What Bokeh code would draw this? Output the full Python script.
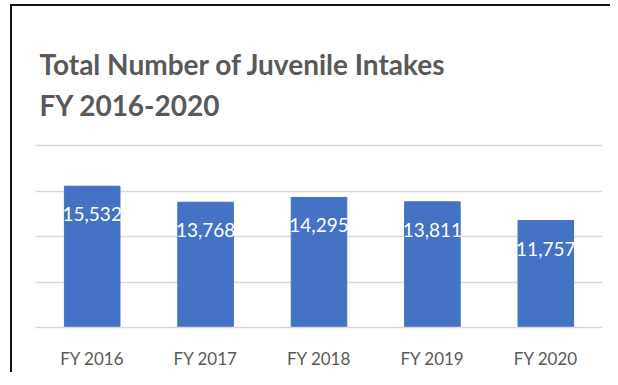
from bokeh.plotting import figure
from bokeh.models import ColumnDataSource, Label, FixedTicker
from bokeh.core.properties import value
from bokeh.embed import file_html
from bokeh.resources import INLINE

categories = ["FY 2016", "FY 2017", "FY 2018", "FY 2019", "FY 2020"]
intakes = [15532, 13768, 14295, 13811, 11757]
y_ticks = [0, 5000, 10000, 15000, 20000]
title_lines = ["Total Number of Juvenile Intakes", "FY 2016-2020"]

labels = [f"{v:,}" for v in intakes]
source = ColumnDataSource(dict(cat=categories, val=intakes, lab=labels))

# canvas origin sits just inside the black frame lines (page coords 12, 6)
OX, OY = 12, 6
W, H = 600, 368
FRAME_L, FRAME_R, FRAME_B = 35 - OX, 602 - OX, 327 - OY
GRID_TOP = 145 - OY                      # where 20000 sits
y_end = 20000 * FRAME_B / (FRAME_B - GRID_TOP)

p = figure(x_range=categories, y_range=(0, y_end), width=W, height=H,
           output_backend="svg", toolbar_location=None, title=None,
           min_border_left=FRAME_L, min_border_right=W - FRAME_R,
           min_border_top=0, min_border_bottom=H - FRAME_B)
p.styles = {"position": "relative", "left": "12px", "top": "6px",
            "box-shadow": "-2px -2px 0 0 #111111"}
p.outline_line_color = None
p.background_fill_color = "white"
p.border_fill_color = "white"

p.vbar(x="cat", top="val", width=0.49, source=source, color="#4472C4")
p.text(x="cat", y="val", text="lab", source=source, text_align="center",
       text_baseline="alphabetic", y_offset=28, text_color="white",
       text_font=value("Lato"), text_font_size="19px")

p.yaxis.visible = False
p.ygrid.ticker = FixedTicker(ticks=y_ticks)
p.ygrid.grid_line_color = "#d9d9d9"
p.ygrid.grid_line_width = 1.5
p.xgrid.grid_line_color = None
p.xaxis.axis_line_color = "#d9d9d9"
p.xaxis.axis_line_width = 1.5
p.xaxis.major_tick_line_color = None
p.xaxis.minor_tick_line_color = None
p.xaxis.major_label_text_font = "Lato"
p.xaxis.major_label_text_font_size = "17px"
p.xaxis.major_label_text_color = "#595959"
p.xaxis.major_label_standoff = 14

for line, base in zip(title_lines, [63, 104]):
    p.add_layout(Label(x=4, y=FRAME_B - (base - OY), x_units="screen", y_units="screen",
                       text=line, text_font="Lato", text_font_style="bold",
                       text_font_size="28px", text_color="#595959",
                       text_baseline="alphabetic"))

open("out.html", "w").write(file_html(p, INLINE))
